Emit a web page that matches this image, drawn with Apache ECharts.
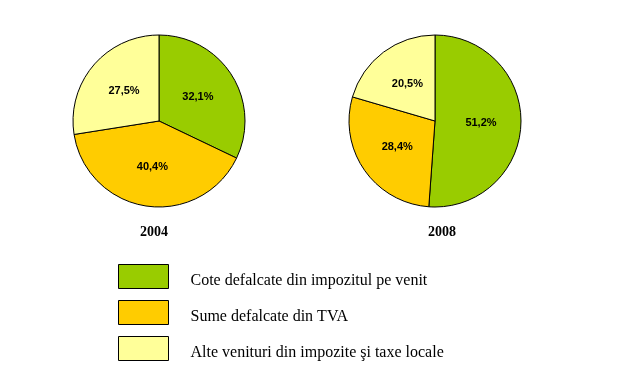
<!DOCTYPE html>
<html><head><meta charset="utf-8">
<script src="https://cdn.jsdelivr.net/npm/echarts@6/dist/echarts.min.js"></script>
<style>html,body{margin:0;padding:0;background:#fff}#c{width:636px;height:384px}</style>
</head><body><div id="c"></div>
<script>
const categories = ['Cote defalcate din impozitul pe venit', 'Sume defalcate din TVA', 'Alte venituri din impozite şi taxe locale'];
const years = ['2004', '2008'];
const values2004 = [32.1, 40.4, 27.5];
const values2008 = [51.2, 28.4, 20.5];
const colors = ['#99CC00', '#FFCC00', '#FFFF99'];

const chart = echarts.init(document.getElementById('c'), null, {renderer: 'canvas'});
function mk(vals, center) {
  return {
    type: 'pie', radius: [0, 86], center: center, startAngle: 90, clockwise: true,
    animation: false, silent: true,
    data: vals.map((v, i) => ({name: categories[i], value: v, itemStyle: {color: colors[i]}})),
    itemStyle: {borderColor: '#000', borderWidth: 1},
    label: {show: true, position: 'inner', formatter: p => p.value.toFixed(1).replace('.', ',') + '%',
      fontFamily: 'Arial, Liberation Sans', fontWeight: 'bold', fontSize: 11, color: '#000'},
    labelLine: {show: false}
  };
}
chart.setOption({
  backgroundColor: '#fff',
  title: [
    {text: years[0], left: 149, top: 220, textAlign: 'center',
      textStyle: {fontFamily: 'Liberation Serif', fontWeight: 'bold', fontSize: 14, color: '#000'}},
    {text: years[1], left: 437, top: 220, textAlign: 'center',
      textStyle: {fontFamily: 'Liberation Serif', fontWeight: 'bold', fontSize: 14, color: '#000'}}
  ],
  legend: {
    orient: 'vertical', left: 118, top: 264, padding: 0, itemWidth: 50, itemHeight: 24, itemGap: 11,
    data: categories, icon: 'rect', selectedMode: false,
    itemStyle: {borderColor: '#000', borderWidth: 1},
    formatter: n => '{t|' + n + '}',
    textStyle: {fontFamily: 'Liberation Serif', fontSize: 16, color: '#000', padding: [0, 0, 0, 17],
      rich: {t: {fontFamily: 'Liberation Serif', fontSize: 16, color: '#000', padding: [9, 0, 0, 0], lineHeight: 14}}}
  },
  series: [mk(values2004, [159, 121]), mk(values2008, [435, 121])]
});
</script></body></html>
